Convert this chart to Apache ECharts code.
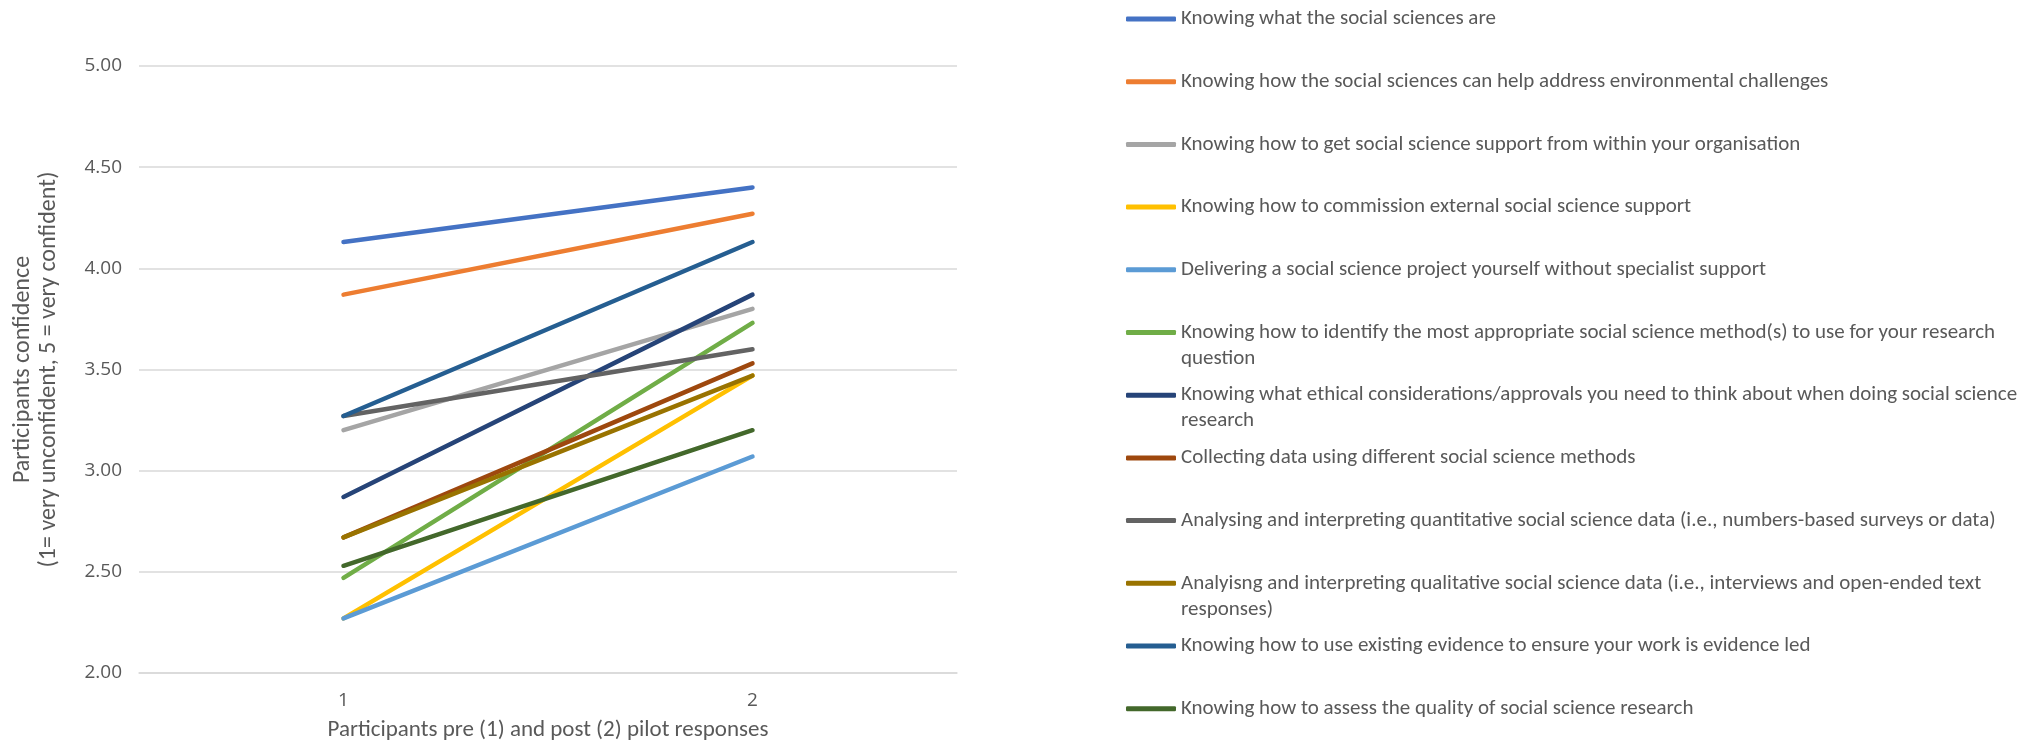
<!DOCTYPE html>
<html>
<head>
<meta charset="utf-8">
<script src="https://cdn.jsdelivr.net/npm/echarts@6/dist/echarts.min.js"></script>
<style>html,body{margin:0;padding:0;background:#fff;}#c{width:2022px;height:755px;}</style>
</head>
<body>
<div id="c"></div>
<script>
const categories = ['1', '2'];
const yTicks = { min: 2, max: 5, interval: 0.5 };

const s1 = [4.13, 4.40];
const s2 = [3.87, 4.27];
const s3 = [3.20, 3.80];
const s4 = [2.27, 3.47];
const s5 = [2.27, 3.07];
const s6 = [2.47, 3.73];
const s7 = [2.87, 3.87];
const s8 = [2.67, 3.53];
const s9 = [3.27, 3.60];
const s10 = [2.67, 3.47];
const s11 = [3.27, 4.13];
const s12 = [2.53, 3.20];

const seriesNames = [
  'Knowing what the social sciences are',
  'Knowing how the social sciences can help address environmental challenges',
  'Knowing how to get social science support from within your organisation',
  'Knowing how to commission external social science support',
  'Delivering a social science project yourself without specialist support',
  'Knowing how to identify the most appropriate social science method(s) to use for your research question',
  'Knowing what ethical considerations/approvals you need to think about when doing social science research',
  'Collecting data using different social science methods',
  'Analysing and interpreting quantitative social science data (i.e., numbers-based surveys or data)',
  'Analyisng and interpreting qualitative social science data (i.e., interviews and open-ended text responses)',
  'Knowing how to use existing evidence to ensure your work is evidence led',
  'Knowing how to assess the quality of social science research'
];
const seriesValues = [s1, s2, s3, s4, s5, s6, s7, s8, s9, s10, s11, s12];
const colors = ['#4472C4', '#ED7D31', '#A5A5A5', '#FFC000', '#5B9BD5', '#70AD47',
                '#264478', '#9E480E', '#636363', '#997300', '#255E91', '#43682B'];

const yName = 'Participants confidence\n(1= very unconfident, 5 = very confident)';
const xName = 'Participants pre (1) and post (2) pilot responses';

const FONT = "Carlito, 'Liberation Sans Narrow', 'Liberation Sans', sans-serif";
const TICKFONT = "'Open Sans', 'Noto Sans', sans-serif";
const TEXT = '#595959';

const legendFontSize = 21;
const legendLH = 26;
const legendWidth = 842;
const legendLeft = 1126;
const legendFirstY = 19;
const legendStep = 62.7;

const measureCtx = document.createElement('canvas').getContext('2d');
measureCtx.font = legendFontSize + 'px ' + FONT;

function wrapWords(text, maxW) {
  const words = text.split(' ');
  const lines = [];
  let cur = '';
  words.forEach(w => {
    const test = cur ? cur + ' ' + w : w;
    if (cur && measureCtx.measureText(test).width > maxW) {
      lines.push(cur);
      cur = w;
    } else {
      cur = test;
    }
  });
  if (cur) lines.push(cur);
  return lines;
}

const legends = seriesNames.map((name, i) => {
  const lines = wrapWords(name, legendWidth);
  const wraps = lines.length > 1;
  const cy = legendFirstY + i * legendStep;
  // an empty leading line keeps the first text line level with the symbol
  const label = wraps ? '\n' + lines.join('\n') : name;
  return {
    orient: 'vertical',
    left: legendLeft,
    top: wraps ? cy - 1.5 * legendLH : cy - legendLH / 2,
    padding: 0,
    icon: 'roundRect',
    itemWidth: 50,
    itemHeight: 5,
    selectedMode: false,
    data: [name],
    formatter: () => label,
    textStyle: {
      fontFamily: FONT,
      fontSize: legendFontSize,
      color: TEXT,
      lineHeight: legendLH
    }
  };
});

const chart = echarts.init(document.getElementById('c'));
chart.setOption({
  animation: false,
  backgroundColor: '#fff',
  grid: { left: 139, right: 1065, top: 66, bottom: 82 },
  legend: legends,
  xAxis: {
    type: 'category',
    data: categories,
    boundaryGap: true,
    axisLine: { show: true, lineStyle: { color: '#d9d9d9', width: 1.5 } },
    axisTick: { show: false },
    axisLabel: { fontFamily: TICKFONT, fontSize: 19, color: TEXT, margin: 18 },
    name: xName,
    nameLocation: 'middle',
    nameGap: 46,
    nameTextStyle: { fontFamily: FONT, fontSize: 23, color: TEXT }
  },
  yAxis: {
    type: 'value',
    min: yTicks.min,
    max: yTicks.max,
    interval: yTicks.interval,
    axisLine: { show: false },
    axisTick: { show: false },
    splitLine: { lineStyle: { color: '#d9d9d9', width: 1.5 } },
    axisLabel: {
      fontFamily: TICKFONT, fontSize: 19, color: TEXT, margin: 17,
      formatter: v => v.toFixed(2)
    },
    name: yName,
    nameLocation: 'middle',
    nameGap: 77,
    nameRotate: 90,
    nameTextStyle: { fontFamily: FONT, fontSize: 24, color: TEXT, lineHeight: 26, align: 'center' }
  },
  series: seriesNames.map((name, i) => ({
    name: name,
    type: 'line',
    data: seriesValues[i],
    showSymbol: false,
    symbol: 'none',
    color: colors[i],
    lineStyle: { width: 4.5, color: colors[i], cap: 'round' }
  }))
});
</script>
</body>
</html>
